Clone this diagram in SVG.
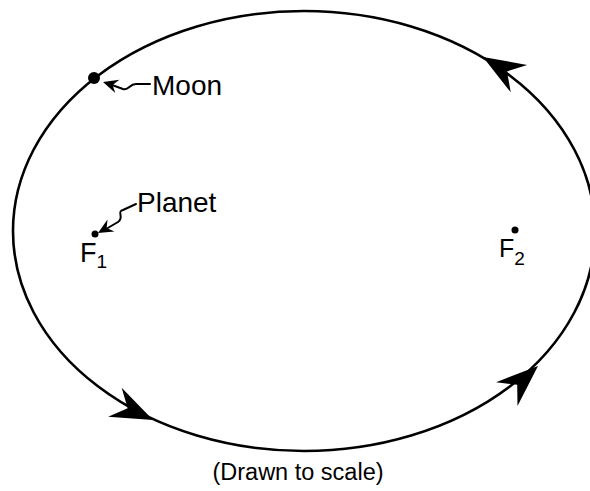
<svg xmlns="http://www.w3.org/2000/svg" xmlns:xlink="http://www.w3.org/1999/xlink" width="590" height="491" viewBox="0 0 590 491">
<style>
.orbit{fill:none;stroke:#000;stroke-width:2.6}
.lbl{font-family:"Liberation Sans",Arial,Helvetica,sans-serif;fill:#000}
.ptr{fill:none;stroke:#000;stroke-width:2;stroke-linecap:round;stroke-linejoin:round}
.head{fill:#000}
</style>
<defs>
<path id="dart" d="M0,0 L-42,-16 L-28,0 L-42,16 Z"/>
<path id="small" d="M0,0 L-15,-7 L-10,0 L-15,7 Z"/>
</defs>
<rect width="590" height="491" fill="#fff"/>
<g id="orbit">
<ellipse class="orbit" cx="304" cy="231" rx="291" ry="220"/>
</g>
<g id="connectors">
<use xlink:href="#dart" class="head" transform="translate(153,420) rotate(25)"/>
<use xlink:href="#dart" class="head" transform="translate(538,366) rotate(-42)"/>
<use xlink:href="#dart" class="head" transform="translate(483,57) rotate(211)"/>
<path class="ptr" d="M112,85 L123,89 C129,91 129,84 136,84 L150,84"/>
<use xlink:href="#small" class="head" transform="translate(103,82) rotate(197)"/>
<path class="ptr" d="M106,229 L118,222 C125,217 116,212 123,210 L136,204"/>
<use xlink:href="#small" class="head" transform="translate(98,233) rotate(150)"/>
</g>
<g id="moon">
<circle cx="94" cy="78" r="6"/>
<text class="lbl" x="152" y="95" font-size="28">Moon</text>
</g>
<g id="planet">
<circle cx="95" cy="234" r="3.5"/>
<text class="lbl" x="137" y="212" font-size="28">Planet</text>
</g>
<g id="f1">
<text class="lbl" x="80" y="262" font-size="27">F<tspan font-size="19" dy="6">1</tspan></text>
</g>
<g id="f2">
<circle cx="515" cy="230" r="3.5"/>
<text class="lbl" x="499" y="257" font-size="25">F<tspan font-size="19" dy="8">2</tspan></text>
</g>
<g id="caption">
<text class="lbl" x="298" y="480" font-size="23.5" text-anchor="middle">(Drawn to scale)</text>
</g>
</svg>
